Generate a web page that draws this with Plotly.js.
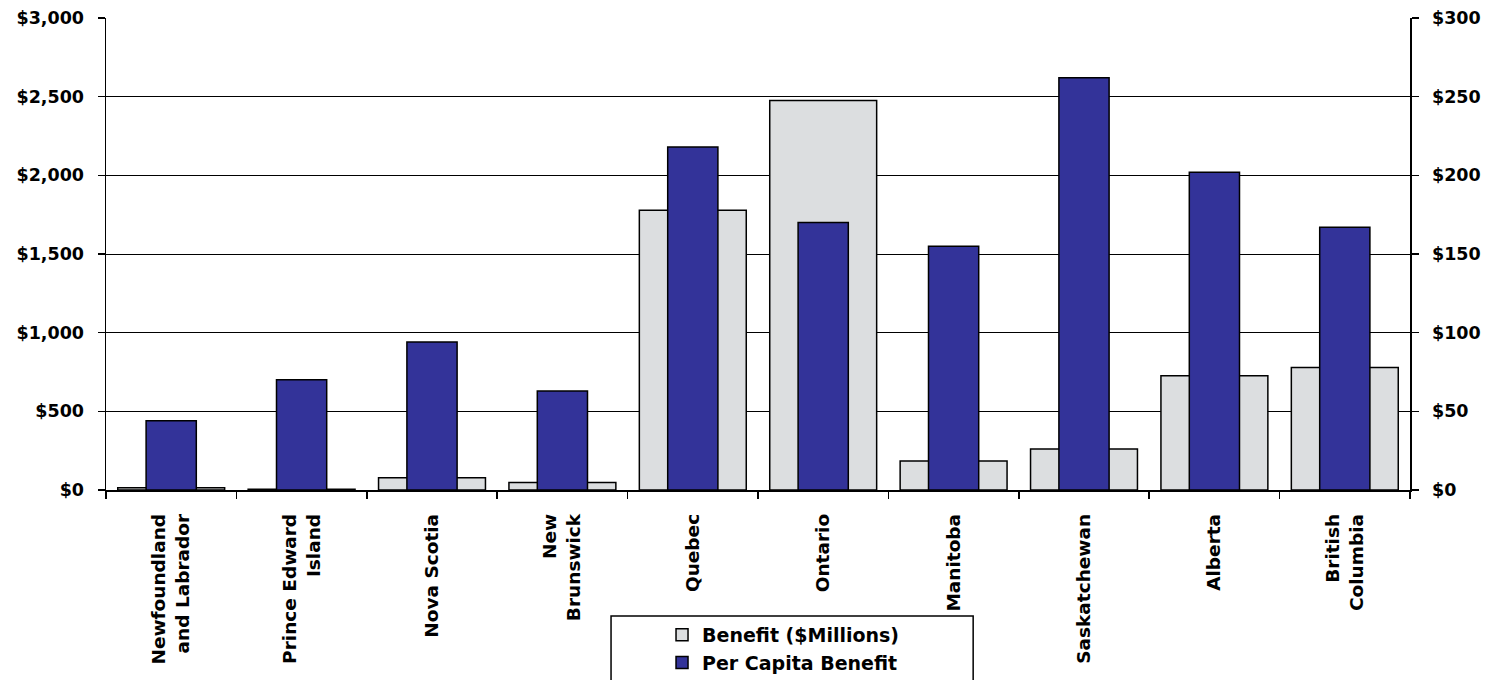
<!DOCTYPE html>
<html>
<head>
<meta charset="utf-8">
<script src="https://cdn.plot.ly/plotly-3.0.1.min.js"></script>
<style>
html,body{margin:0;padding:0;background:#ffffff;}
#chart{width:1497px;height:680px;}
</style>
</head>
<body>
<div id="chart"></div>
<script>
// ---- data ----
const provinces = [
  "Newfoundland<br>and Labrador",
  "Prince Edward<br>Island",
  "Nova Scotia",
  "New<br>Brunswick",
  "Quebec",
  "Ontario",
  "Manitoba",
  "Saskatchewan",
  "Alberta",
  "British<br>Columbia"
];
const benefitMillions = [15, 5, 78, 48, 1778, 2476, 184, 260, 726, 778];
const perCapitaBenefit = [44, 70, 94, 63, 218, 170, 155, 262, 202, 167];

const leftTickVals = [0, 500, 1000, 1500, 2000, 2500, 3000];
const leftTickText = ["$0", "$500", "$1,000", "$1,500", "$2,000", "$2,500", "$3,000"];
const rightTickVals = [0, 50, 100, 150, 200, 250, 300];
const rightTickText = ["$0", "$50", "$100", "$150", "$200", "$250", "$300"];

const seriesNames = ["Benefit ($Millions)", "Per Capita Benefit"];

// ---- styling ----
const FONT = "DejaVu Sans, Arial, sans-serif";
const tickFont = {family: FONT, size: 17.5, color: "#000000", weight: "bold"};

const traces = [
  {
    type: "bar",
    name: seriesNames[0],
    x: provinces,
    y: benefitMillions,
    yaxis: "y",
    width: 0.82,
    marker: {color: "#dcdee0", line: {color: "#000000", width: 1.5}},
    legendgroup: "a",
    hoverinfo: "x+y"
  },
  {
    type: "bar",
    name: seriesNames[1],
    x: provinces,
    y: perCapitaBenefit,
    yaxis: "y2",
    width: 0.385,
    marker: {color: "#333399", line: {color: "#000000", width: 1.5}},
    legendgroup: "b",
    hoverinfo: "x+y"
  }
];

const layout = {
  width: 1497,
  height: 680,
  paper_bgcolor: "#ffffff",
  plot_bgcolor: "#ffffff",
  margin: {l: 106, r: 87, t: 18, b: 190, pad: 0, autoexpand: false},
  barmode: "overlay",
  showlegend: true,
  font: {family: FONT, color: "#000000"},
  xaxis: {
    type: "category",
    automargin: false,
    tickangle: -90,
    tickfont: {family: FONT, size: 18.5, color: "#000000", weight: "bold"},
    ticks: "outside",
    tickson: "boundaries",
    ticklen: 7,
    tickcolor: "#000000",
    tickwidth: 1.5,
    showline: true,
    linecolor: "#000000",
    linewidth: 1.5,
    showgrid: false,
    zeroline: false,
    ticklabelstandoff: 15,
    fixedrange: true
  },
  yaxis: {
    range: [0, 3000],
    automargin: false,
    tickvals: leftTickVals,
    ticktext: leftTickText,
    tickfont: tickFont,
    ticks: "outside",
    ticklen: 7,
    tickcolor: "#000000",
    tickwidth: 1.5,
    showline: true,
    linecolor: "#000000",
    linewidth: 1.5,
    showgrid: true,
    gridcolor: "#000000",
    gridwidth: 1,
    zeroline: false,
    ticklabelstandoff: 10,
    fixedrange: true
  },
  yaxis2: {
    range: [0, 300],
    automargin: false,
    overlaying: "y",
    side: "right",
    tickvals: rightTickVals,
    ticktext: rightTickText,
    tickfont: tickFont,
    ticks: "outside",
    ticklen: 7,
    tickcolor: "#000000",
    tickwidth: 1.5,
    showline: true,
    linecolor: "#000000",
    linewidth: 1.5,
    showgrid: false,
    zeroline: false,
    ticklabelstandoff: 10,
    fixedrange: true
  },
  legend: {
    x: 0.4264,
    y: -0.267,
    xanchor: "left",
    yanchor: "top",
    bgcolor: "rgba(0,0,0,0)",
    borderwidth: 0,
    font: {family: FONT, size: 19, color: "#000000", weight: "bold"},
    traceorder: "normal",
    tracegroupgap: 7,
    itemclick: false,
    itemdoubleclick: false
  },
  shapes: [
    {
      type: "rect",
      xref: "paper", yref: "paper",
      x0: 0.3873, x1: 0.665,
      y0: -0.267, y1: -0.45,
      line: {color: "#000000", width: 1.5},
      fillcolor: "rgba(0,0,0,0)",
      layer: "below"
    }
  ]
};

Plotly.newPlot("chart", traces, layout, {displayModeBar: false, staticPlot: true});
</script>
</body>
</html>
